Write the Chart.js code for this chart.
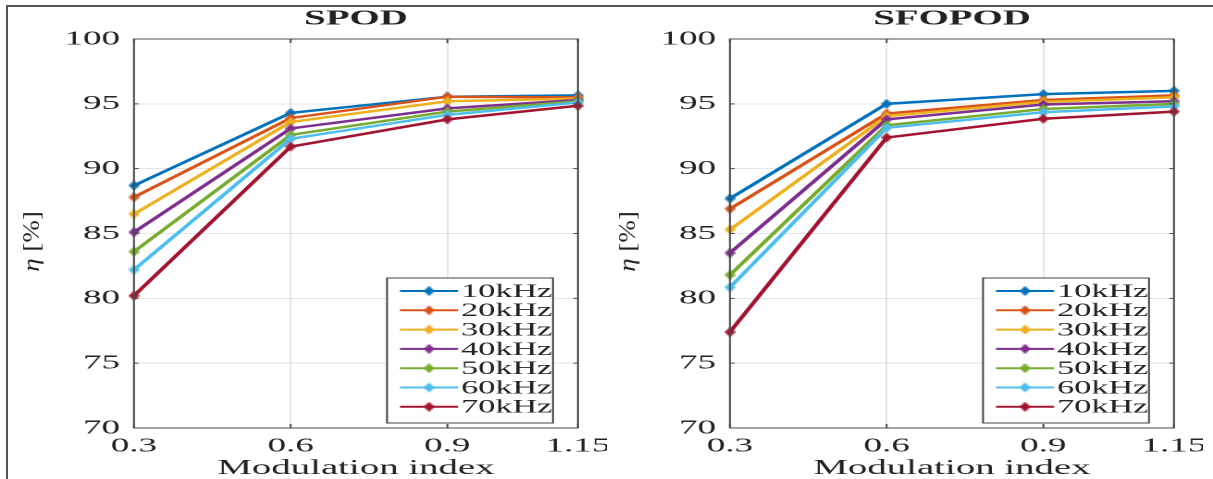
<!DOCTYPE html>
<html>
<head>
<meta charset="utf-8">
<script src="https://cdn.jsdelivr.net/npm/chart.js@4.4.1/dist/chart.umd.min.js"></script>
<style>
  html, body { margin: 0; padding: 0; background: #fff; }
  body { width: 1213px; height: 479px; position: relative; overflow: hidden; }
  #frame { position: absolute; left: 6px; top: 5px; width: 1230px; height: 500px; border-top: 2px solid #555; border-left: 2px solid #555; }
  .panel { position: absolute; top: 0; width: 328px; height: 479px; transform: scaleX(1.85); transform-origin: 0 0; }
  .panel canvas { display: block; }
</style>
</head>
<body>
<div id="frame"></div>
<div class="panel" style="left:0"><canvas id="spod" width="328" height="479"></canvas></div>
<div class="panel" style="left:596px"><canvas id="sfopod" width="328" height="479"></canvas></div>
<script>
const modIndex = [0.3, 0.6, 0.9, 1.15];
const xTickLabels = ["0.3", "0.6", "0.9", "1.15"];
const yTicks = [70, 75, 80, 85, 90, 95, 100];
const freqLabels = ["10kHz", "20kHz", "30kHz", "40kHz", "50kHz", "60kHz", "70kHz"];
const lineColors = ["#0072BD", "#D95319", "#EDB120", "#7E2F8E", "#77AC30", "#4DBEEE", "#A2142F"];

// efficiency in %, one row per switching frequency
const spodEta = [
  [88.7, 94.3, 95.55, 95.65],
  [87.8, 93.9, 95.55, 95.5],
  [86.5, 93.6, 95.2, 95.4],
  [85.1, 93.1, 94.65, 95.3],
  [83.6, 92.6, 94.4, 95.2],
  [82.2, 92.3, 94.15, 95.1],
  [80.2, 91.7, 93.8, 94.85],
];
const sfopodEta = [
  [87.7, 95.0, 95.75, 96.0],
  [86.9, 94.25, 95.3, 95.65],
  [85.3, 94.05, 95.15, 95.5],
  [83.5, 93.8, 94.95, 95.2],
  [81.8, 93.35, 94.6, 95.0],
  [80.85, 93.15, 94.35, 94.8],
  [77.4, 92.4, 93.85, 94.4],
];

const serif = "'Liberation Serif', 'Times New Roman', serif";
const textColor = "#222";

function diamond(color) {
  const c = document.createElement("canvas");
  c.width = 6;
  c.height = 10;
  const g = c.getContext("2d");
  g.fillStyle = color;
  g.beginPath();
  g.moveTo(3, 0);
  g.lineTo(6, 5);
  g.lineTo(3, 10);
  g.lineTo(0, 5);
  g.closePath();
  g.fill();
  return c;
}

const matlabLook = {
  id: "matlabLook",
  afterDraw(chart, args, opts) {
    const { ctx, chartArea: a, scales } = chart;
    ctx.save();
    ctx.strokeStyle = "#4a4a4a";
    ctx.lineWidth = 1;
    ctx.beginPath();
    modIndex.forEach((v) => {
      const px = scales.x.getPixelForValue(v);
      ctx.moveTo(px, a.bottom);
      ctx.lineTo(px, a.bottom - 4);
      ctx.moveTo(px, a.top);
      ctx.lineTo(px, a.top + 4);
    });
    yTicks.forEach((v) => {
      const py = scales.y.getPixelForValue(v);
      ctx.moveTo(a.left, py);
      ctx.lineTo(a.left + 2.5, py);
      ctx.moveTo(a.right, py);
      ctx.lineTo(a.right - 2.5, py);
    });
    ctx.stroke();
    ctx.strokeRect(a.left, a.top, a.width, a.height);

    // title over the plot box
    ctx.fillStyle = textColor;
    ctx.font = "bold 21px " + serif;
    ctx.textAlign = "center";
    ctx.textBaseline = "middle";
    ctx.fillText(opts.text, (a.left + a.right) / 2, 19);

    // y axis label: italic eta then [%], squeezed to undo the panel stretch
    ctx.save();
    ctx.translate(17.8, (a.top + a.bottom) / 2 + 8);
    ctx.rotate(-Math.PI / 2);
    ctx.scale(1, 0.45);
    ctx.textAlign = "left";
    ctx.font = "italic 27px " + serif;
    const etaW = ctx.measureText("η").width;
    ctx.font = "27px " + serif;
    const restW = ctx.measureText(" [%]").width;
    const x0 = -(etaW + restW) / 2;
    ctx.font = "italic 27px " + serif;
    ctx.fillText("η", x0, 0);
    ctx.font = "27px " + serif;
    ctx.fillText(" [%]", x0 + etaW, 0);
    ctx.restore();

    // legend box, lower right
    const w = 89.7, h = 145;
    const bx = a.right - 13.5 - w, by = a.bottom - 5 - h;
    ctx.fillStyle = "#fff";
    ctx.fillRect(bx, by, w, h);
    ctx.strokeStyle = "#444";
    ctx.lineWidth = 1;
    ctx.strokeRect(bx, by, w, h);
    ctx.font = "18.5px " + serif;
    ctx.textAlign = "left";
    chart.data.datasets.forEach((ds, i) => {
      const y = by + 13 + i * 19.3;
      ctx.strokeStyle = ds.borderColor;
      ctx.lineWidth = 2;
      ctx.beginPath();
      ctx.moveTo(bx + 7, y);
      ctx.lineTo(bx + 38.4, y);
      ctx.stroke();
      const m = ds.pointStyle;
      ctx.drawImage(m, bx + 22.7 - m.width / 2, y - m.height / 2, m.width, m.height);
      ctx.fillStyle = textColor;
      ctx.fillText(ds.label, bx + 40, y + 1);
    });
    ctx.restore();
  },
};

function makeChart(id, title, eta) {
  return new Chart(document.getElementById(id), {
    type: "line",
    data: {
      datasets: eta.map((vals, i) => ({
        label: freqLabels[i],
        data: vals.map((v, j) => ({ x: modIndex[j], y: v })),
        borderColor: lineColors[i],
        backgroundColor: lineColors[i],
        borderWidth: 2.5,
        pointStyle: diamond(lineColors[i]),
        pointRadius: 4,
        tension: 0,
        clip: false,
        order: eta.length - 1 - i,
      })),
    },
    options: {
      responsive: false,
      devicePixelRatio: 2,
      animation: false,
      layout: { padding: { top: 39, right: 15.6, left: 0, bottom: 0 } },
      plugins: {
        legend: { display: false },
        tooltip: { enabled: false },
        matlabLook: { text: title },
      },
      scales: {
        x: {
          type: "linear",
          min: 0.3,
          max: 1.15,
          afterBuildTicks: (s) => {
            s.ticks = modIndex.map((v) => ({ value: v }));
          },
          afterFit: (s) => {
            s.height = 51;
            s.paddingLeft = 0;
            s.paddingRight = 0;
          },
          ticks: {
            autoSkip: false,
            maxRotation: 0,
            padding: 6,
            color: textColor,
            font: { family: serif, size: 20 },
            callback: (v, i) => xTickLabels[i],
          },
          grid: { color: "rgba(0, 0, 0, 0.1)", drawTicks: false },
          border: { display: false },
          title: {
            display: true,
            text: "Modulation index",
            color: textColor,
            font: { family: serif, size: 21, lineHeight: 1 },
            padding: { top: 0, bottom: 0 },
          },
        },
        y: {
          min: 70,
          max: 100,
          afterBuildTicks: (s) => {
            s.ticks = yTicks.map((v) => ({ value: v }));
          },
          afterFit: (s) => {
            s.width = 72.4;
          },
          ticks: {
            padding: 7.5,
            color: textColor,
            font: { family: serif, size: 20 },
          },
          grid: { color: "rgba(0, 0, 0, 0.1)", drawTicks: false },
          border: { display: false },
        },
      },
    },
    plugins: [matlabLook],
  });
}

makeChart("spod", "SPOD", spodEta);
makeChart("sfopod", "SFOPOD", sfopodEta);
</script>
</body>
</html>
